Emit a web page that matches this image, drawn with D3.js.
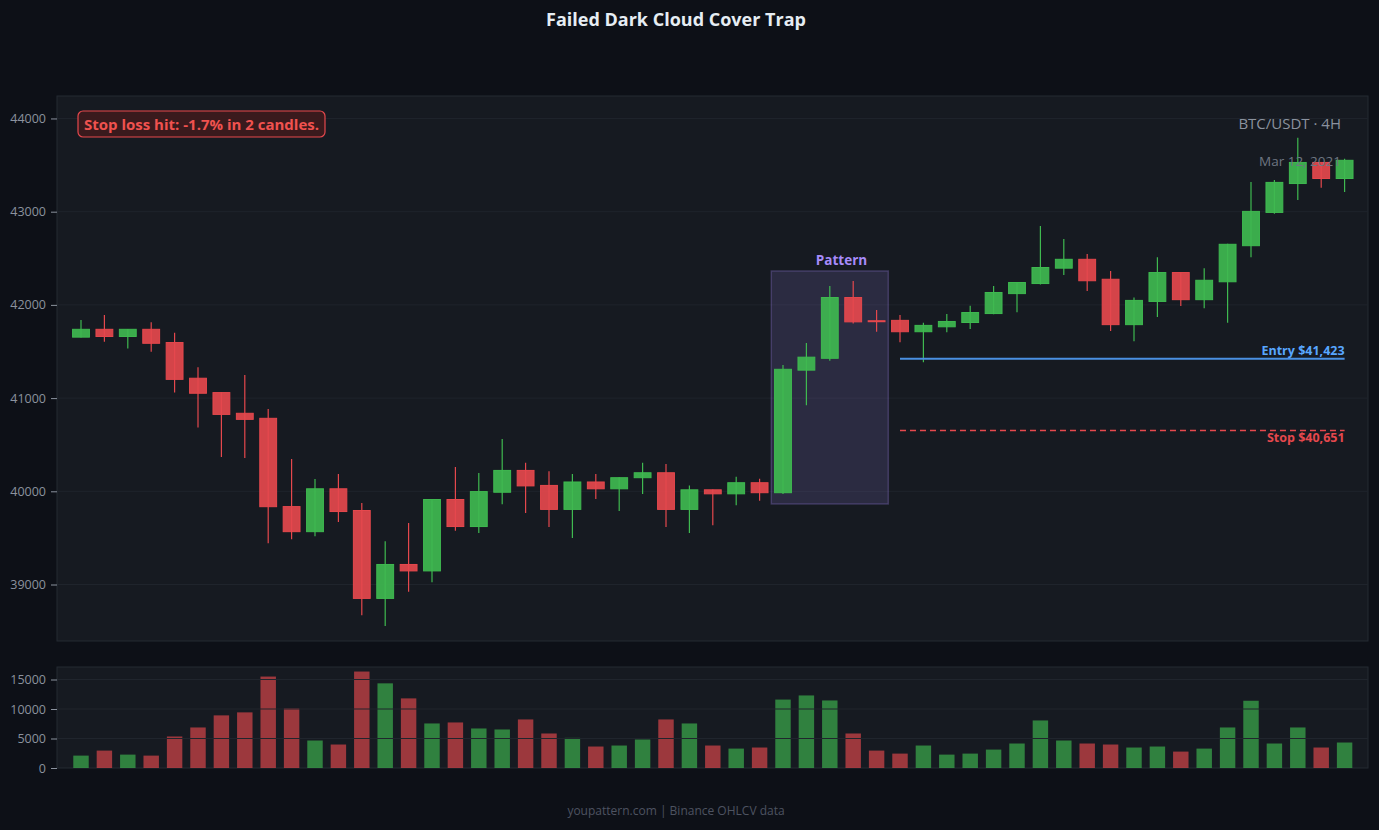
<!DOCTYPE html>
<html>
<head>
<meta charset="utf-8">
<script src="https://cdn.jsdelivr.net/npm/d3@7"></script>
<style>
    html, body { margin: 0; padding: 0; background: #0d1017; }
    svg { display: block; font-family: "Open Sans", "Noto Sans", sans-serif; }
</style>
</head>
<body>
<svg id="chartSvg" width="1379" height="830"></svg>
<script>
// OHLCV, 4H candles
const opens = [41654, 41738, 41661, 41738, 41596, 41213, 41059, 40837, 40783, 39836,
    39567, 40027, 39794, 38851, 39215, 39146, 39912, 39622, 39990, 40224,
    40063, 39806, 40100, 40027, 40146, 40199, 39806, 40016, 39973, 40092,
    39985, 41300, 41427, 42079, 41830, 41834, 41712, 41765, 41811, 41907,
    42121, 42229, 42394, 42489, 42275, 41788, 42037, 42347, 42056, 42248,
    42635, 42992, 43302, 43528, 43356];
const highs = [41838, 41891, 41740, 41815, 41700, 41331, 41062, 41247, 40883, 40346,
    40132, 40185, 39875, 39465, 39660, 39915, 40262, 40197, 40561, 40306,
    40216, 40185, 40185, 40150, 40306, 40293, 40062, 40020, 40157, 40134,
    41355, 41592, 42202, 42256, 41945, 41891, 41807, 41903, 41991, 42202,
    42245, 42846, 42708, 42547, 42363, 42080, 42512, 42350, 42393, 42655,
    43318, 43341, 43793, 43530, 43567];
const lows = [41650, 41604, 41531, 41497, 41059, 40684, 40368, 40357, 39444, 39486,
    39517, 39670, 38670, 38556, 38923, 39023, 39576, 39553, 39862, 39767,
    39618, 39498, 39917, 39790, 39970, 39618, 39553, 39637, 39851, 39900,
    39970, 40924, 41400, 41799, 41712, 41600, 41385, 41707, 41742, 41900,
    41922, 42220, 42321, 42148, 41719, 41611, 41869, 41987, 41963, 41807,
    42512, 42978, 43126, 43256, 43210];
const closes = [41738, 41661, 41738, 41588, 41201, 41052, 40825, 40772, 39835, 39567,
    40027, 39783, 38851, 39215, 39146, 39912, 39622, 39997, 40224, 40058,
    39806, 40100, 40027, 40146, 40199, 39806, 40016, 39973, 40092, 39985,
    41309, 41439, 42079, 41818, 41822, 41712, 41780, 41822, 41918, 42133,
    42240, 42401, 42489, 42259, 41788, 42048, 42347, 42056, 42264, 42650,
    43003, 43314, 43528, 43356, 43551];
const volumes = [2100, 2950, 2270, 2100, 5340, 6870, 8920, 9430, 15500, 10100,
    4660, 3980, 16350, 14350, 11800, 7550, 7720, 6700, 6530, 8230,
    5850, 5110, 3640, 3810, 4830, 8230, 7550, 3810, 3290, 3470,
    11600, 12300, 11450, 5850, 2950, 2440, 3810, 2270, 2440, 3120,
    4150, 8060, 4660, 4150, 3980, 3470, 3640, 2780, 3290, 6870,
    11400, 4150, 6870, 3470, 4320];

const priceTicks = [39000, 40000, 41000, 42000, 43000, 44000];
const volumeTicks = [0, 5000, 10000, 15000];

const patternStart = 30;
const patternEnd = 34;
const entryPrice = 41423;
const stopPrice = 40651;
const entryFrom = 35;

const green = "#3fb950";
const red = "#e5484d";

const candles = opens.map((o, i) => ({
    i: i, open: o, high: highs[i], low: lows[i], close: closes[i], volume: volumes[i]
}));

const svg = d3.select("#chartSvg");

const panel = { left: 57, right: 1368, top: 96, bottom: 641 };
const volPanel = { left: 57, right: 1368, top: 667, bottom: 768 };

const x = d3.scaleBand()
    .domain(d3.range(candles.length))
    .range([69.3, 1356.3])
    .paddingInner(0);

const y = d3.scaleLinear()
    .domain([38394, 44241])
    .range([panel.bottom, panel.top]);

const yVol = d3.scaleLinear()
    .domain([0, 17120])
    .range([volPanel.bottom, volPanel.top]);

const cx = i => x(i) + x.bandwidth() / 2;
const bodyW = x.bandwidth() * 0.72;
const volW = x.bandwidth() * 0.66;
const colorOf = d => d.close >= d.open ? green : red;

// background + title
svg.append("rect").attr("width", 1379).attr("height", 830).attr("fill", "#0d1017");

svg.append("text")
    .attr("x", 676).attr("y", 26)
    .attr("text-anchor", "middle")
    .attr("fill", "#e6edf3")
    .attr("font-size", 18)
    .attr("font-weight", "bold")
    .text("Failed Dark Cloud Cover Trap");

// panels
[panel, volPanel].forEach(p => {
    svg.append("rect")
        .attr("x", p.left).attr("y", p.top)
        .attr("width", p.right - p.left).attr("height", p.bottom - p.top)
        .attr("fill", "#161a21")
        .attr("stroke", "#252a33")
        .attr("stroke-width", 1);
});

// price grid
svg.append("g").selectAll("line")
    .data(priceTicks)
    .join("line")
    .attr("x1", panel.left).attr("x2", panel.right)
    .attr("y1", d => y(d)).attr("y2", d => y(d))
    .attr("stroke", "#1f242c")
    .attr("stroke-width", 1);

const axisStyle = g => {
    g.select(".domain").remove();
    g.selectAll(".tick line").attr("stroke", "#8b929e");
    g.selectAll(".tick text")
        .attr("fill", "#8b929e")
        .attr("font-size", 12.5)
        .attr("font-family", "'Open Sans', 'Noto Sans', sans-serif");
};

svg.append("g")
    .attr("transform", `translate(${panel.left},0)`)
    .call(d3.axisLeft(y).tickValues(priceTicks).tickFormat(d3.format("d")).tickSize(6).tickPadding(5))
    .call(axisStyle);

svg.append("g")
    .attr("transform", `translate(${volPanel.left},0)`)
    .call(d3.axisLeft(yVol).tickValues(volumeTicks).tickFormat(d3.format("d")).tickSize(6).tickPadding(5))
    .call(axisStyle);

// pattern highlight
const patHigh = d3.max(candles.slice(patternStart, patternEnd + 1), d => d.high) + 108;
const patLow = d3.min(candles.slice(patternStart, patternEnd + 1), d => d.low) - 106;

svg.append("rect")
    .attr("x", x(patternStart))
    .attr("y", y(patHigh))
    .attr("width", x(patternEnd) + x.bandwidth() - x(patternStart))
    .attr("height", y(patLow) - y(patHigh))
    .attr("fill", "#a78bfa")
    .attr("fill-opacity", 0.15)
    .attr("stroke", "#a78bfa")
    .attr("stroke-opacity", 0.25)
    .attr("stroke-width", 1.5);

svg.append("text")
    .attr("x", (cx(32) + cx(33)) / 2)
    .attr("y", y(patHigh) - 6)
    .attr("text-anchor", "middle")
    .attr("fill", "#a78bfa")
    .attr("font-size", 13.5)
    .attr("font-weight", "bold")
    .text("Pattern");

// candles
const candleG = svg.append("g");

candleG.selectAll("line.wick")
    .data(candles)
    .join("line")
    .attr("class", "wick")
    .attr("x1", d => cx(d.i)).attr("x2", d => cx(d.i))
    .attr("y1", d => y(d.high)).attr("y2", d => y(d.low))
    .attr("stroke", colorOf)
    .attr("stroke-width", 1.2);

candleG.selectAll("rect.body")
    .data(candles)
    .join("rect")
    .attr("class", "body")
    .attr("x", d => cx(d.i) - bodyW / 2)
    .attr("y", d => y(Math.max(d.open, d.close)))
    .attr("width", bodyW)
    .attr("height", d => Math.max(1, Math.abs(y(d.open) - y(d.close))))
    .attr("fill", colorOf)
    .attr("fill-opacity", 0.92)
    .attr("stroke", colorOf)
    .attr("stroke-width", 1);

// entry + stop
svg.append("line")
    .attr("x1", cx(entryFrom)).attr("x2", cx(candles.length - 1))
    .attr("y1", y(entryPrice)).attr("y2", y(entryPrice))
    .attr("stroke", "#4a90e2")
    .attr("stroke-width", 2);

svg.append("text")
    .attr("x", cx(candles.length - 1))
    .attr("y", y(entryPrice) - 4)
    .attr("text-anchor", "end")
    .attr("fill", "#58a6ff")
    .attr("font-size", 12.5)
    .attr("font-weight", "bold")
    .text("Entry $" + d3.format(",")(entryPrice));

svg.append("line")
    .attr("x1", cx(entryFrom)).attr("x2", cx(candles.length - 1))
    .attr("y1", y(stopPrice)).attr("y2", y(stopPrice))
    .attr("stroke", red)
    .attr("stroke-width", 1.5)
    .attr("stroke-dasharray", "6,4");

svg.append("text")
    .attr("x", cx(candles.length - 1))
    .attr("y", y(stopPrice) + 11)
    .attr("text-anchor", "end")
    .attr("fill", red)
    .attr("font-size", 12.5)
    .attr("font-weight", "bold")
    .text("Stop $" + d3.format(",")(stopPrice));

// volume bars
svg.append("g").selectAll("rect")
    .data(candles)
    .join("rect")
    .attr("x", d => cx(d.i) - volW / 2)
    .attr("y", d => yVol(d.volume))
    .attr("width", volW)
    .attr("height", d => yVol(0) - yVol(d.volume))
    .attr("fill", colorOf)
    .attr("fill-opacity", 0.65);

// volume grid drawn over bars
svg.append("g").selectAll("line")
    .data(volumeTicks.slice(1))
    .join("line")
    .attr("x1", volPanel.left).attr("x2", volPanel.right)
    .attr("y1", d => yVol(d)).attr("y2", d => yVol(d))
    .attr("stroke", "#20252d")
    .attr("stroke-width", 1);

// labels
svg.append("text")
    .attr("x", 1341).attr("y", 129)
    .attr("text-anchor", "end")
    .attr("fill", "#8b929e")
    .attr("font-size", 15)
    .text("BTC/USDT · 4H");

svg.append("text")
    .attr("x", 1341).attr("y", 166)
    .attr("text-anchor", "end")
    .attr("fill", "#6e7681")
    .attr("font-size", 13.5)
    .text("Mar 12, 2021");

svg.append("rect")
    .attr("x", 78).attr("y", 111)
    .attr("width", 247).attr("height", 26)
    .attr("rx", 5)
    .attr("fill", "#3a1a1d")
    .attr("stroke", red)
    .attr("stroke-width", 1.2);

svg.append("text")
    .attr("x", 84).attr("y", 129.5)
    .attr("fill", "#f0524f")
    .attr("font-size", 15)
    .attr("font-weight", "bold")
    .text("Stop loss hit: -1.7% in 2 candles.");

svg.append("text")
    .attr("x", 676).attr("y", 815)
    .attr("text-anchor", "middle")
    .attr("fill", "#4d5361")
    .attr("font-size", 12)
    .text("youpattern.com | Binance OHLCV data");
</script>
</body>
</html>
